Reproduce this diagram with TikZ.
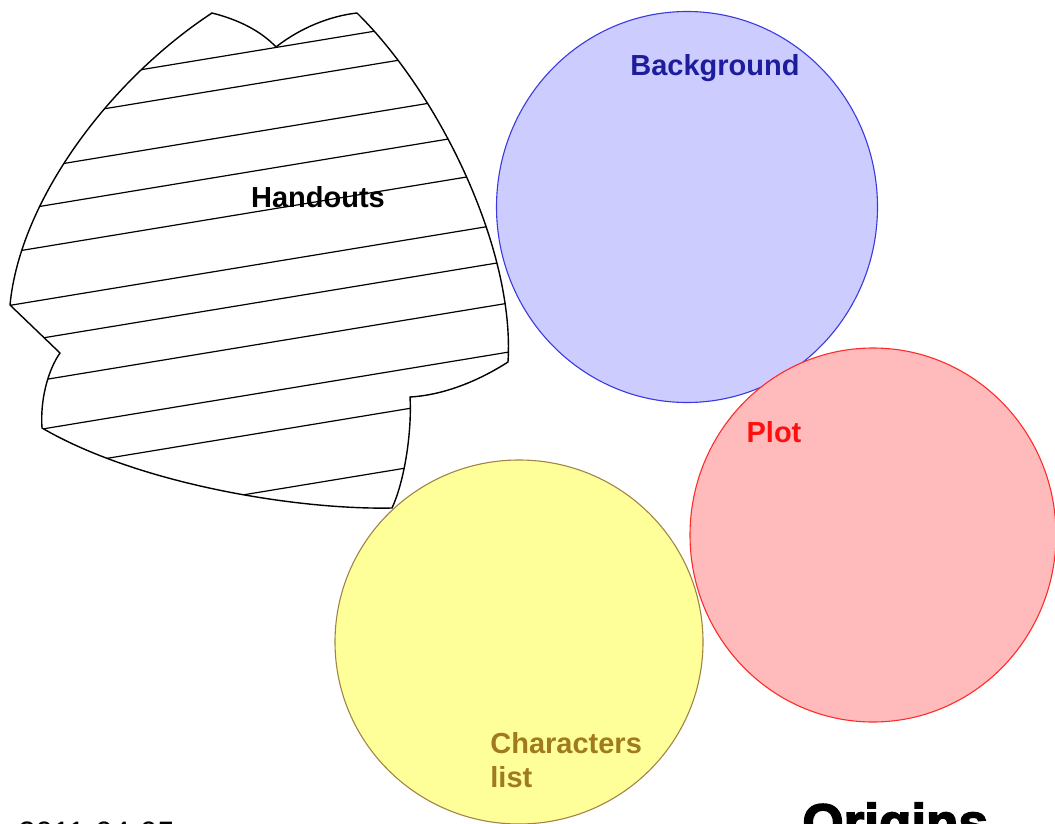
\documentclass[tikz,border=0pt]{standalone}
\usepackage{fontspec}
\setmainfont{Liberation Sans}
\newfontfamily\heavyfont{Liberation Sans Bold}[FakeBold=3]
\usetikzlibrary{shapes.geometric}
\definecolor{bgfill}{HTML}{CCCCFF}
\definecolor{bgline}{HTML}{3A3AE0}
\definecolor{bgtext}{HTML}{1C1C9C}
\definecolor{plfill}{HTML}{FFBBBB}
\definecolor{plline}{HTML}{FF2A2A}
\definecolor{pltext}{HTML}{FF1010}
\definecolor{chfill}{HTML}{FFFF99}
\definecolor{chline}{HTML}{A08446}
\definecolor{chtext}{HTML}{A07A1E}

\begin{document}
\begin{tikzpicture}[
  x=0.5pt, y=-0.5pt,
  bubble/.style={draw=#1, line width=0.55pt, ellipse, inner sep=0pt},
  lbl/.style={font=\fontsize{14.5}{17}\selectfont\bfseries, inner sep=0pt},
  hatch/.style={line width=0.6pt, black},
]

% Page frame
\useasboundingbox (0,0) rectangle (1055,824);

% === Handouts: hatched patch ===
\begin{scope}[line width=0.7pt]
  \draw[clip] (212,13)
    .. controls (240,20) and (262,32) .. (276,47)
    .. controls (300,28) and (330,16) .. (357,13)
    .. controls (440,95) and (515,250) .. (508,362)
    .. controls (480,380) and (445,395) .. (410,397)
    .. controls (412,430) and (405,480) .. (392,508)
    .. controls (300,510) and (140,485) .. (42,428)
    .. controls (40,400) and (48,370) .. (60,353)
    -- (10,305)
    .. controls (20,200) and (110,80) .. (212,13) -- cycle;
  \foreach \b in {93,126,174,213,254,307,345,387,436,476,535}
    \draw[hatch] (0,\b) -- (520,{\b-0.165*520});
\end{scope}
\node[lbl, text=black, anchor=base] (handouts) at (318,207) {Handouts};

% === Circles ===
\node[bubble=bgline, fill=bgfill, minimum width=190.5pt, minimum height=195.5pt]
  (background) at (687,207) {};
\node[bubble=plline, fill=plfill, minimum width=183pt, minimum height=187pt]
  (plot) at (873,535) {};
\node[bubble=chline, fill=chfill, minimum width=184pt, minimum height=182pt]
  (characters) at (519,642) {};

% Labels
\node[lbl, text=bgtext, anchor=base] (backgroundlbl) at (715,76) {Background};
\node[lbl, text=pltext, anchor=base] (plotlbl) at (774,442) {Plot};
\node[lbl, text=chtext, anchor=north west, align=left] (characterslbl)
  at (490,732) {Characters\\list};

% === Footer (cut by the page edge) ===
\node[font=\fontsize{15.5}{18}\selectfont, inner sep=0pt, anchor=base west]
  (date) at (18,843) {2011-04-05};
\node[font=\fontsize{26.5}{30}\heavyfont, inner sep=0pt, anchor=base west]
  (origins) at (802,841) {Origins};

\end{tikzpicture}
\end{document}
